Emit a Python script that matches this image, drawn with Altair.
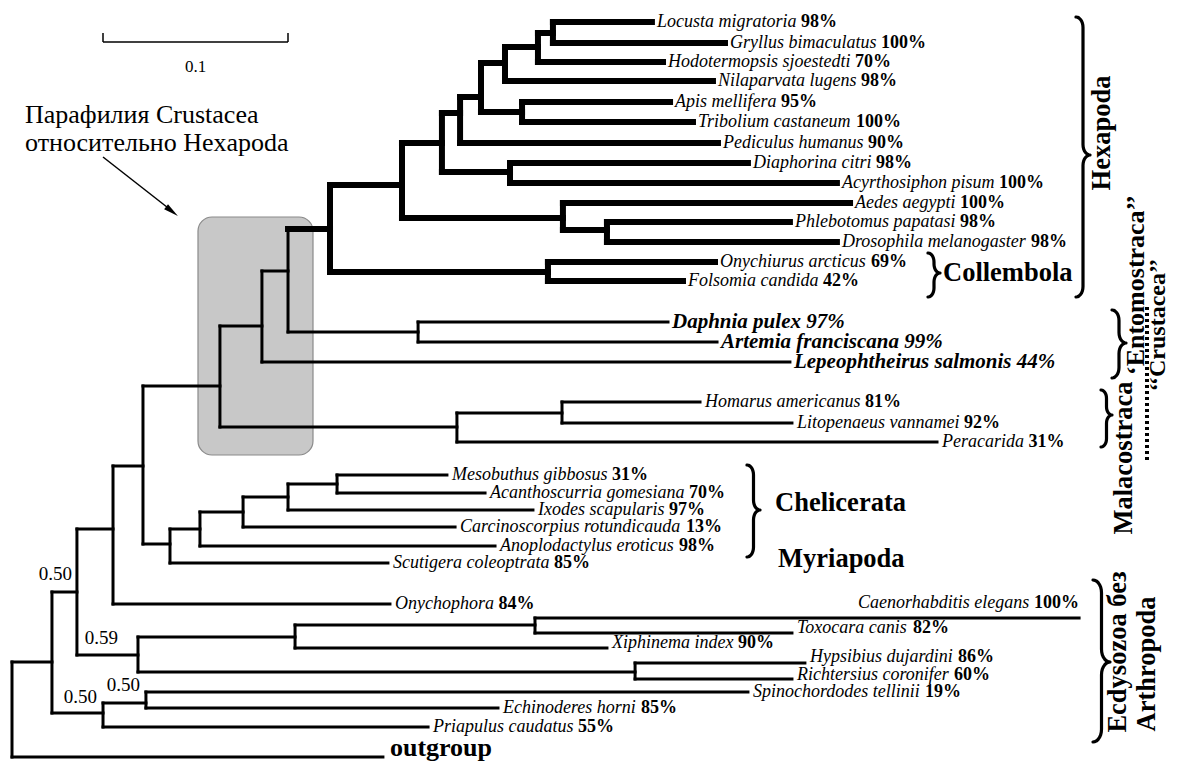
import altair as alt
import numpy as np
import pandas as pd

PX = 1850.0          # figure pixels per unit of branch length (scale bar 0.1 = 185 px)
FONT = "Liberation Serif"
W, H = 1163, 753


def X(px):
    """layout helper: figure pixel -> branch-length units (annotations only)"""
    return (px - 12) / PX


# ---------------- tree data ----------------
NODE_ID = ["root", "A", "B", "C", "D", "E", "F", "G", "H", "I", "J", "K", "L", "L1", "L2", "L3", "L4",
           "M", "N", "N1", "O", "P", "Q", "S", "T", "U", "V", "X", "h4", "h3", "h2", "AT", "DA", "W", "PD"]
NODE_PARENT = [None, "root", "A", "B", "A", "D", "C", "F", "C", "B", "I", "J", "J", "L", "L1", "L2", "L3",
               "K", "K", "N", "M", "O", "O", "P", "P", "S", "U", "V", "X", "h4", "h3", "X", "U", "S", "W"]
NODE_DEPTH = [0.0, 0.0216, 0.0351, 0.0681, 0.0492, 0.0724, 0.1530, 0.2827, 0.3368, 0.0546, 0.0708,
              0.1124, 0.0854, 0.1016, 0.1249, 0.1492, 0.1757, 0.1351, 0.2405, 0.2973, 0.1492, 0.1719,
              0.2195, 0.2108, 0.2897, 0.2324, 0.2422, 0.2535, 0.2665, 0.2843, 0.2924, 0.2757, 0.2692,
              0.2978, 0.3216]
NODE_ROW = [710, 662, 592, 655, 713, 703, 637, 625, 672, 529, 466, 386, 544, 529, 512, 497, 484,
            326, 427, 413, 271, 229, 332, 185, 272, 143, 113, 97, 63, 47, 33, 112, 172, 218, 230]

LEAF_NAME = ["Locusta migratoria", "Gryllus bimaculatus", "Hodotermopsis sjoestedti", "Nilaparvata lugens",
             "Apis mellifera", "Tribolium castaneum", "Pediculus humanus", "Diaphorina citri",
             "Acyrthosiphon pisum", "Aedes aegypti", "Phlebotomus papatasi", "Drosophila melanogaster",
             "Onychiurus arcticus", "Folsomia candida", "Daphnia pulex", "Artemia franciscana",
             "Lepeophtheirus salmonis", "Homarus americanus", "Litopenaeus vannamei", "Peracarida",
             "Mesobuthus gibbosus", "Acanthoscurria gomesiana", "Ixodes scapularis",
             "Carcinoscorpius rotundicauda", "Anoplodactylus eroticus", "Scutigera coleoptrata",
             "Onychophora", "Caenorhabditis elegans", "Toxocara canis", "Xiphinema index",
             "Hypsibius dujardini", "Richtersius coronifer", "Spinochordodes tellinii",
             "Echinoderes horni", "Priapulus caudatus", "outgroup"]
LEAF_PARENT = ["h2", "h2", "h3", "h4", "AT", "AT", "V", "DA", "DA", "W", "PD", "PD", "T", "T", "Q", "Q",
               "M", "N1", "N1", "N", "L4", "L4", "L3", "L2", "L1", "L", "I", "G", "G", "F", "H", "H",
               "E", "E", "D", "root"]
LEAF_DEPTH = [0.3459, 0.3854, 0.3519, 0.3789, 0.3557, 0.3681, 0.3816, 0.3978, 0.4459, 0.4530, 0.4205,
              0.4459, 0.3800, 0.3627, 0.3546, 0.3811, 0.4205, 0.3719, 0.4216, 0.5000, 0.2351, 0.2557,
              0.2816, 0.2395, 0.2611, 0.2032, 0.2043, 0.5768, 0.4216, 0.3216, 0.4286, 0.4216, 0.3978,
              0.2627, 0.2249, 0.2005]
LEAF_ROW = [22, 43, 62, 81, 102, 122, 143, 163, 183, 203, 222, 242, 262, 281, 322, 342, 362, 402, 423,
            442, 475, 493, 510, 527, 546, 563, 604, 618, 633, 648, 663, 679, 692, 708, 727, 757]
LEAF_SUPPORT = ["98%", "100%", "70%", "98%", "95%", "100%", "90%", "98%", "100%", "100%", "98%", "98%",
                "69%", "42%", "97%", "99%", "44%", "81%", "92%", "31%", "31%", "70%", "97%", "13%", "98%",
                "85%", "84%", "100%", "82%", "90%", "86%", "60%", "19%", "85%", "55%", ""]
BIG_LEAVES = ["Daphnia pulex", "Artemia franciscana", "Lepeophtheirus salmonis"]
THICK_CLADE = "P"   # Hexapoda

NODE_SUPPORT_ID = ["B", "C", "D", "E"]
NODE_SUPPORT = ["0.50", "0.59", "0.50", "0.50"]

SCALE_BAR = 0.1

GROUPS = ["Hexapoda", "Collembola", "Chelicerata", "Myriapoda", "\u2018Entomostraca\u2019\u2019",
          "\u2018\u2018Crustacea\u2019\u2019", "Malacostraca", "Ecdysozoa без", "Arthropoda"]

# ---------------- layout (pixel positions in the figure) ----------------
GROUP_POS = [(1102, 133, 270, "center", 26.5), (943, 273, 0, "left", 26.5), (775, 503, 0, "left", 26.5),
             (778, 559, 0, "left", 26.5), (1136, 285, 270, "center", 26), (1158, 325, 270, "center", 24),
             (1124, 458, 270, "center", 26.5), (1118, 652, 270, "center", 26.5),
             (1147, 664, 270, "center", 26.5)]
BRACES = [(1076, 1090, 17, 297, 155), (928, 940, 253, 297, 273), (747, 760, 465, 557, 510),
          (1112, 1126, 310, 378, 343), (1101, 1112, 390, 447, 415), (1093, 1110, 580, 742, 662)]
DOTTED = (1147, 307, 460)
SUPPORT_OFF = [(-5, -18), (-20, -17), (-6, -16), (-6, -18)]
LABEL_DY = {"Toxocara canis": -5, "Xiphinema index": -5, "Hypsibius dujardini": -6,
            "Richtersius coronifer": -4, "Caenorhabditis elegans": -15, "outgroup": -9}
BOX = (198, 313, 217, 455)

# ---------------- font metrics (Times / Liberation Serif) ----------------
IT_W = dict(zip("ABCDEFGHIJKLMNOPQRSTUVWXYZ",
                [611, 611, 667, 722, 611, 611, 722, 722, 333, 444, 667, 556, 833, 667, 722, 611, 722,
                 611, 500, 556, 722, 611, 833, 611, 556, 556]))
IT_W.update(zip("abcdefghijklmnopqrstuvwxyz",
                [500, 500, 444, 500, 444, 278, 500, 500, 278, 278, 444, 278, 722, 500, 500, 500, 500,
                 389, 389, 278, 500, 444, 667, 444, 444, 389]))
IT_W[" "] = 250
BD_W = {c: 500 for c in "0123456789"}
BD_W["%"] = 1000
BD_W[" "] = 250


def tw(s, table, size):
    return sum(table.get(ch, 500) for ch in s) * size / 1000.0


# ---------------- build tables ----------------
nodes = {}
for i, p, d, r in zip(NODE_ID, NODE_PARENT, NODE_DEPTH, NODE_ROW):
    nodes[i] = dict(parent=p, x=d, y=r)
for n, p, d, r in zip(LEAF_NAME, LEAF_PARENT, LEAF_DEPTH, LEAF_ROW):
    nodes[n] = dict(parent=p, x=d, y=r)
children = {}
for k, v in nodes.items():
    if v["parent"] is not None:
        children.setdefault(v["parent"], []).append(k)
thick = set()
stack = [THICK_CLADE]
while stack:
    k = stack.pop()
    thick.add(k)
    stack.extend(children.get(k, []))

segs = []
for k, v in nodes.items():
    if v["parent"] is None:
        continue
    par = nodes[v["parent"]]
    segs.append(dict(x=par["x"], x2=v["x"], y=v["y"], y2=v["y"], w=6 if k in thick else 3))
for k, kids in children.items():
    ys_ = [nodes[c]["y"] for c in kids]
    segs.append(dict(x=nodes[k]["x"], x2=nodes[k]["x"], y=min(ys_), y2=max(ys_), w=6 if k in thick else 3))
seg_df = pd.DataFrame(segs)

SP = 18
names, pcts, bigs, outg = [], [], [], []
for n, d, r, s in zip(LEAF_NAME, LEAF_DEPTH, LEAF_ROW, LEAF_SUPPORT):
    dy = LABEL_DY.get(n, 0)
    if n == "outgroup":
        outg.append(dict(x=d + 7 / PX, y=r + dy, t=n))
        continue
    if n in BIG_LEAVES:
        bigs.append(dict(x=d + 4 / PX, y=r + dy, t=n + " " + s))
        continue
    wn = tw(n + " ", IT_W, SP)
    wp = tw(s, BD_W, SP)
    x0, y0 = d + 5 / PX, r + dy
    if n.startswith("Caenorhabditis"):
        x0 = d - (wn + wp) / PX
    names.append(dict(x=x0, y=y0, t=n))
    pcts.append(dict(x=x0 + wn / PX, y=y0, t=s))

sup = []
for nid, t, (dx, dy) in zip(NODE_SUPPORT_ID, NODE_SUPPORT, SUPPORT_OFF):
    sup.append(dict(x=nodes[nid]["x"] + dx / PX, y=nodes[nid]["y"] + dy, t=t))

brace_rows = []
for b, (xl, xr, y0, y1, ym) in enumerate(BRACES):
    rx = (xr - xl) / 2.0
    ry = rx * 1.5
    pts = []
    for t in np.linspace(-90, 0, 8):
        a = np.radians(t); pts.append((xl + rx * np.cos(a), y0 + ry + ry * np.sin(a)))
    for t in np.linspace(180, 90, 8):
        a = np.radians(t); pts.append((xr + rx * np.cos(a), ym - ry + ry * np.sin(a)))
    for t in np.linspace(270, 180, 8):
        a = np.radians(t); pts.append((xr + rx * np.cos(a), ym + ry + ry * np.sin(a)))
    for t in np.linspace(0, 90, 8):
        a = np.radians(t); pts.append((xl + rx * np.cos(a), y1 - ry + ry * np.sin(a)))
    for i, (px, py) in enumerate(pts):
        brace_rows.append(dict(b=b, i=i, x=X(px), y=py))
brace_df = pd.DataFrame(brace_rows)

xs = alt.Scale(domain=[X(8), X(8 + W)], nice=False, zero=False)
ys = alt.Scale(domain=[8 + H, 8], nice=False, zero=False)


def enc(**kw):
    e = dict(x=alt.X("x:Q", scale=xs, axis=None), y=alt.Y("y:Q", scale=ys, axis=None))
    e.update(kw)
    return e


box = alt.Chart(pd.DataFrame([dict(x=X(BOX[0]), x2=X(BOX[1]), y=BOX[2], y2=BOX[3])])).mark_rect(
    fill="#c8c8c8", stroke="#8a8a8a", strokeWidth=1.2, cornerRadius=14
).encode(**enc(x2="x2:Q", y2="y2:Q"))

branches = alt.Chart(seg_df).mark_rule(color="black", strokeCap="square").encode(
    **enc(x2="x2:Q", y2="y2:Q", strokeWidth=alt.StrokeWidth("w:Q", scale=None)))

braces = alt.Chart(brace_df).mark_line(color="black", strokeWidth=3.2, strokeCap="round",
                                       strokeJoin="round").encode(
    **enc(detail="b:N", order="i:Q"))

dotted = alt.Chart(pd.DataFrame([dict(x=X(DOTTED[0]), y=DOTTED[1], y2=DOTTED[2])])).mark_rule(
    color="black", strokeWidth=4, strokeDash=[3, 3]).encode(**enc(y2="y2:Q"))

sb_x = X(103)
scalebar = alt.Chart(pd.DataFrame([
    dict(x=sb_x, x2=sb_x + SCALE_BAR, y=42, y2=42),
    dict(x=sb_x, x2=sb_x, y=33, y2=42),
    dict(x=sb_x + SCALE_BAR, x2=sb_x + SCALE_BAR, y=33, y2=42)])).mark_rule(
    color="black", strokeWidth=1.5).encode(**enc(x2="x2:Q", y2="y2:Q"))
scalebar_txt = alt.Chart(pd.DataFrame([dict(x=sb_x + SCALE_BAR / 2, y=67, t=str(SCALE_BAR))])).mark_text(
    font=FONT, fontSize=17, baseline="middle", align="center").encode(**enc(text="t:N"))

arrow = alt.Chart(pd.DataFrame([dict(x=X(103), x2=X(172), y=157, y2=211)])).mark_rule(
    color="black", strokeWidth=1.5).encode(**enc(x2="x2:Q", y2="y2:Q"))
arrow_head = alt.Chart(pd.DataFrame([dict(x=X(172), y=211.4)])).mark_point(
    shape="M0,-1L0.42,1L-0.42,1Z", filled=True, color="black", opacity=1, size=225, angle=128
).encode(**enc())

para = alt.Chart(pd.DataFrame([dict(x=X(25), y=115, t="Парафилия Crustacea"),
                               dict(x=X(25), y=143, t="относительно Hexapoda")])).mark_text(
    font=FONT, fontSize=26, baseline="middle", align="left").encode(**enc(text="t:N"))

names_l = alt.Chart(pd.DataFrame(names)).mark_text(
    font=FONT, fontSize=SP, fontStyle="italic", baseline="middle", align="left").encode(**enc(text="t:N"))
pcts_l = alt.Chart(pd.DataFrame(pcts)).mark_text(
    font=FONT, fontSize=SP, fontWeight="bold", baseline="middle", align="left").encode(**enc(text="t:N"))
bigs_l = alt.Chart(pd.DataFrame(bigs)).mark_text(
    font=FONT, fontSize=21, fontWeight="bold", fontStyle="italic", baseline="middle", align="left"
).encode(**enc(text="t:N"))
outg_l = alt.Chart(pd.DataFrame(outg)).mark_text(
    font=FONT, fontSize=26, fontWeight="bold", baseline="middle", align="left").encode(**enc(text="t:N"))
sup_l = alt.Chart(pd.DataFrame(sup)).mark_text(
    font=FONT, fontSize=19, baseline="middle", align="right").encode(**enc(text="t:N"))

group_layers = []
for g, (gx, gy, ang, al, fs) in zip(GROUPS, GROUP_POS):
    group_layers.append(alt.Chart(pd.DataFrame([dict(x=X(gx), y=gy, t=g)])).mark_text(
        font=FONT, fontSize=fs, fontWeight="bold", baseline="middle", align=al, angle=ang
    ).encode(**enc(text="t:N")))

chart = alt.layer(box, branches, braces, dotted, scalebar, scalebar_txt, arrow, arrow_head, para,
                  names_l, pcts_l, bigs_l, outg_l, sup_l, *group_layers).properties(
    width=W, height=H, padding=0, autosize="none", background="white"
).configure_view(stroke=None)

chart.save("out.html", embed_options={"renderer": "svg", "actions": False})
